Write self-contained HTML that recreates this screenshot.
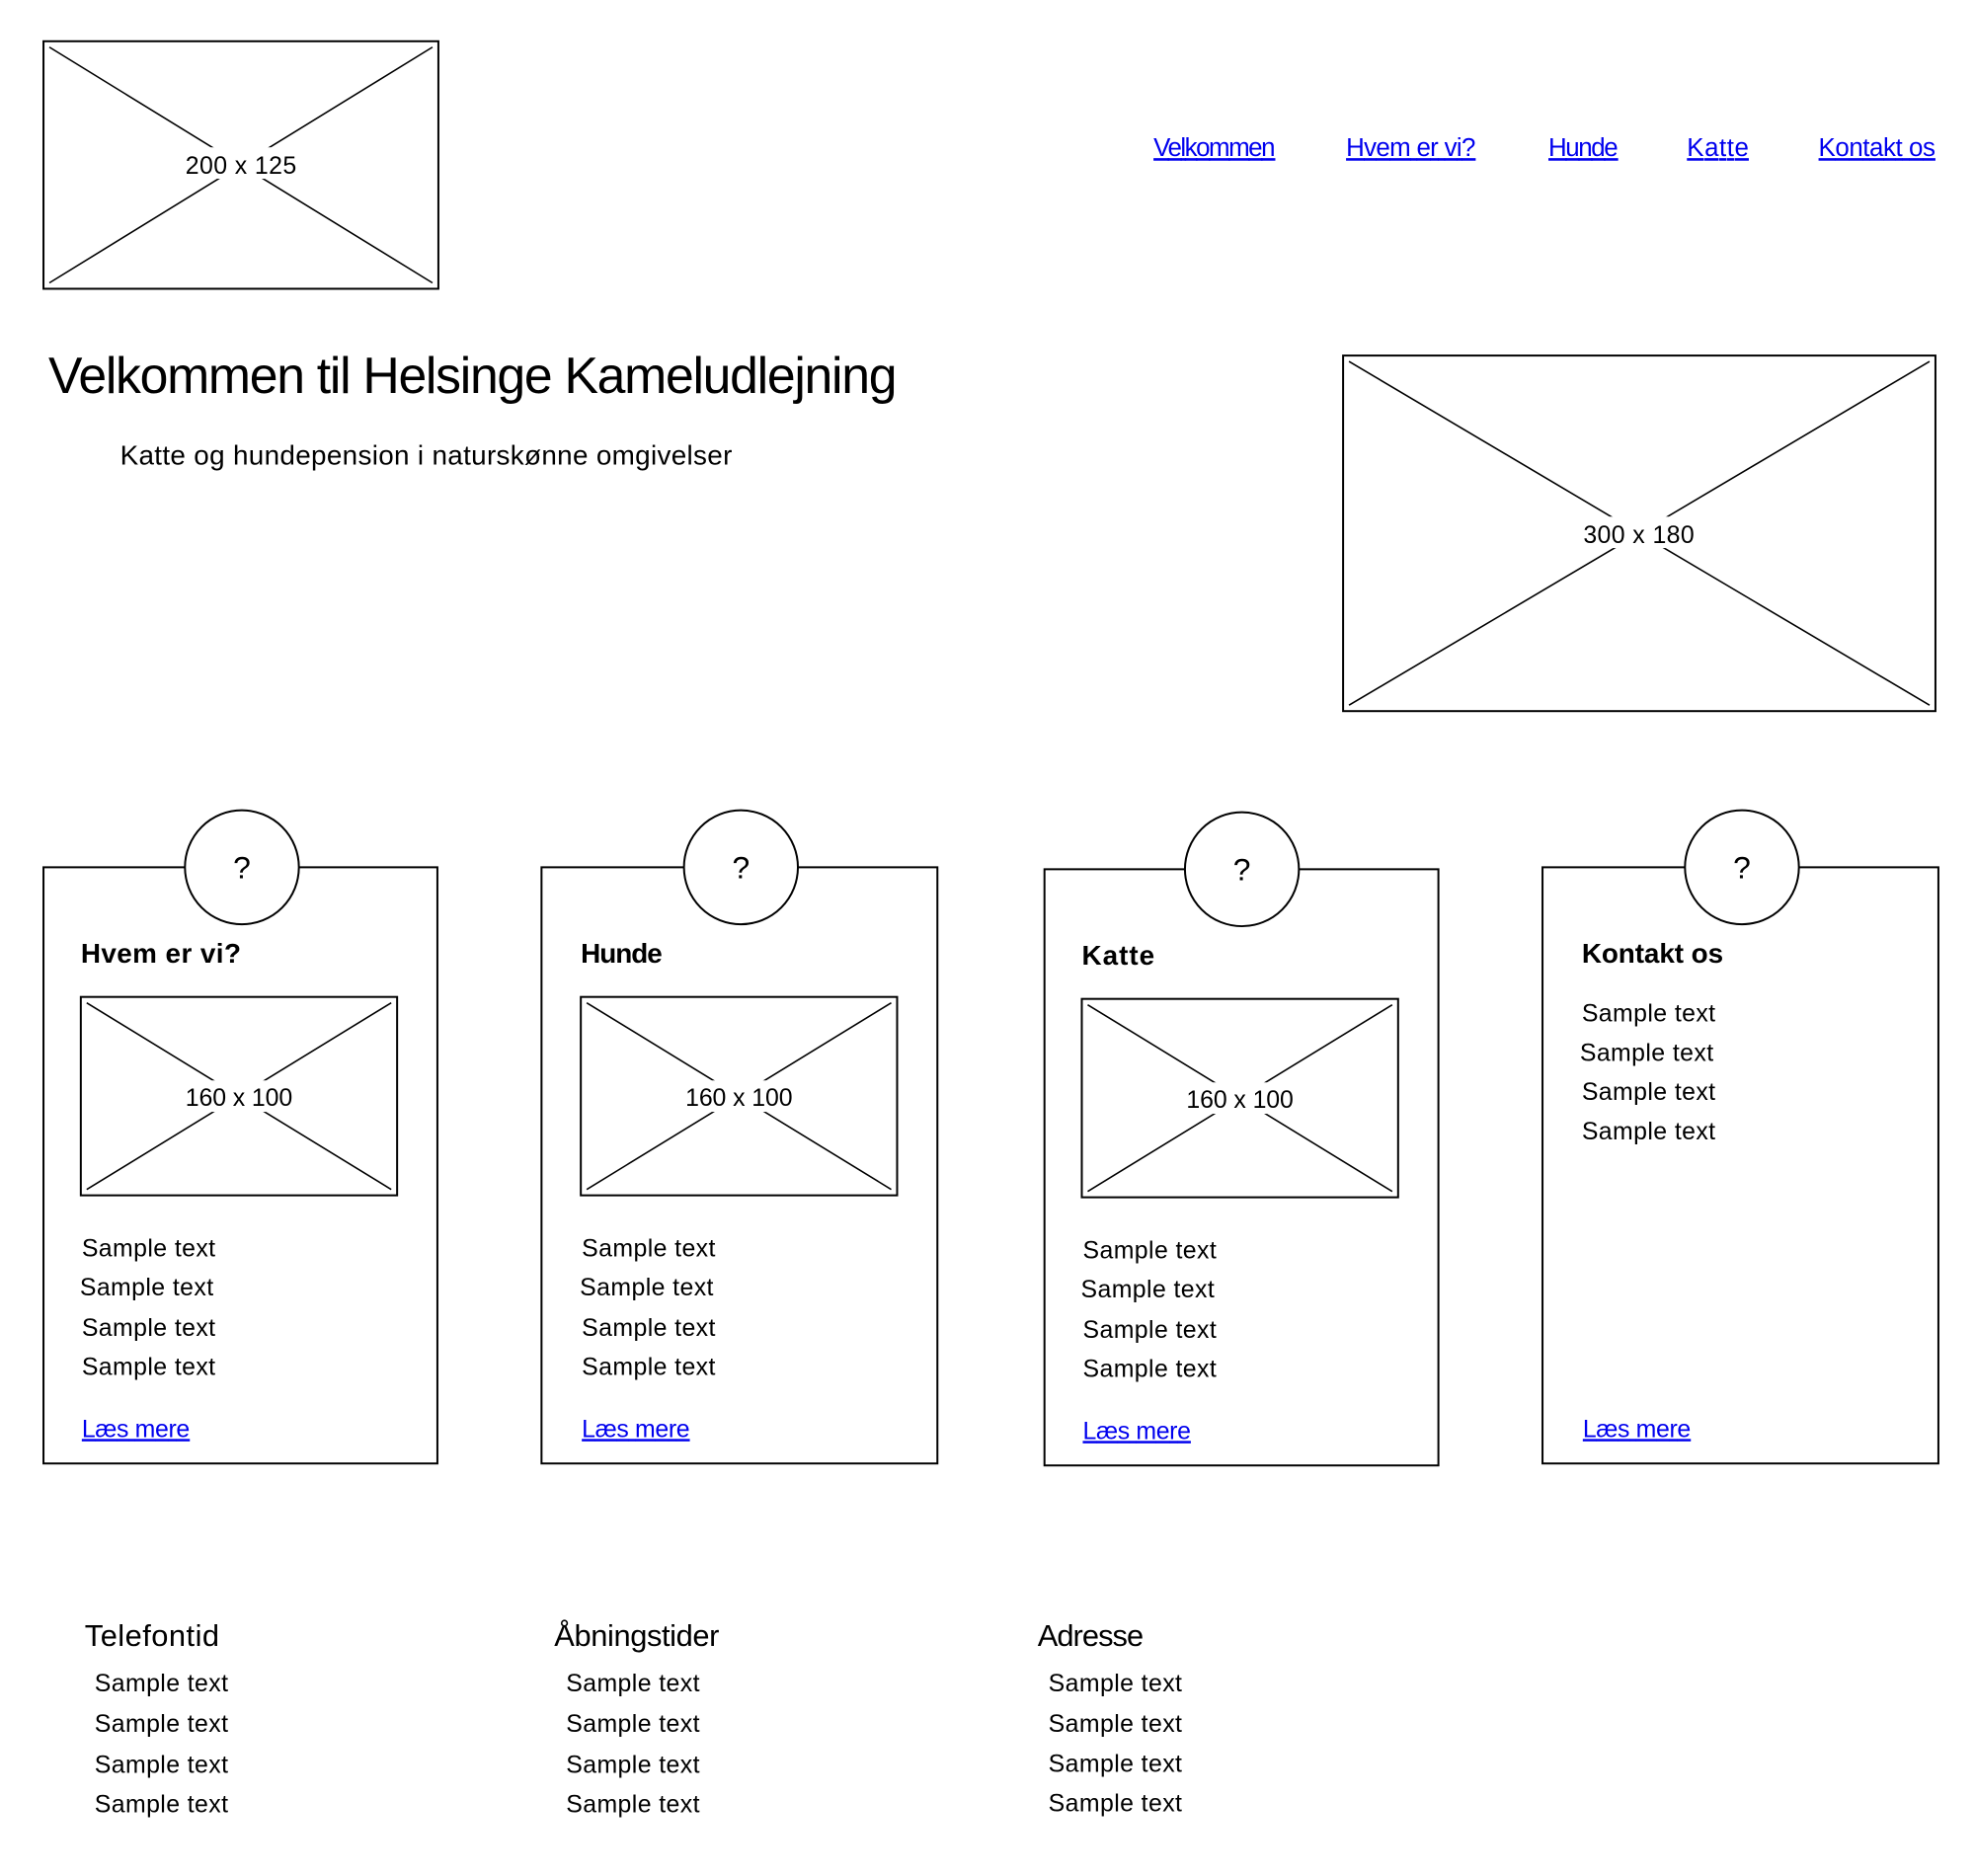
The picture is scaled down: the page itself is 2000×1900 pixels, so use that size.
<!DOCTYPE html>
<html><head><meta charset="utf-8">
<style>
html,body{margin:0;padding:0;background:#fff;width:2000px;height:1900px;overflow:hidden}
svg{display:block}
text{font-family:"Liberation Sans",sans-serif;fill:#000}
.lnk{fill:#0000ee;text-decoration:underline}
.box{fill:#fff;stroke:#000;stroke-width:2}
.x{stroke:#000;stroke-width:1.6}
.lbl{font-size:25px}
.st{font-size:25px}
.h{font-size:28px;font-weight:bold}
.fh{font-size:31px}
</style></head>
<body>
<svg width="2000" height="1900" viewBox="0 0 2010 1910">
<!-- Logo -->
<g>
<rect class="box" x="44" y="42" width="402" height="252"/>
<line class="x" x1="50" y1="48" x2="440" y2="288"/><line class="x" x1="440" y1="48" x2="50" y2="288"/>
<rect x="185" y="150" width="120" height="32" fill="#fff"/>
<text class="lbl" x="245" y="177" text-anchor="middle" textLength="113">200 x 125</text>
</g>
<!-- Nav -->
<g font-size="26">
<text class="lnk" x="1174" y="159" textLength="124">Velkommen</text>
<text class="lnk" x="1370" y="159" textLength="132">Hvem er vi?</text>
<text class="lnk" x="1576" y="159" textLength="71">Hunde</text>
<text class="lnk" x="1717" y="159" textLength="63">Katte</text>
<text class="lnk" x="1851" y="159" textLength="119">Kontakt os</text>
</g>
<!-- Hero -->
<text x="49" y="400" font-size="52" textLength="864">Velkommen til Helsinge Kameludlejning</text>
<text x="122" y="473" font-size="28" textLength="623">Katte og hundepension i naturskønne omgivelser</text>
<g>
<rect class="box" x="1367" y="362" width="603" height="362"/>
<line class="x" x1="1373" y1="368" x2="1964" y2="718"/><line class="x" x1="1964" y1="368" x2="1373" y2="718"/>
<rect x="1606" y="526" width="124" height="32" fill="#fff"/>
<text class="lbl" x="1668" y="553" text-anchor="middle" textLength="113">300 x 180</text>
</g>

<!-- Card 1 -->
<g>
<rect class="box" x="44" y="883" width="401" height="607"/>
<circle class="box" cx="246" cy="883" r="58"/>
<text x="246" y="894" font-size="32" text-anchor="middle">?</text>
<text class="h" x="82" y="980" textLength="163">Hvem er vi?</text>
<rect class="box" x="82" y="1015" width="322" height="202"/>
<line class="x" x1="88" y1="1021" x2="398" y2="1211"/><line class="x" x1="398" y1="1021" x2="88" y2="1211"/>
<rect x="182" y="1100" width="122" height="32" fill="#fff"/>
<text class="lbl" x="243" y="1126" text-anchor="middle" textLength="109">160 x 100</text>
<text class="st" x="83" y="1279" textLength="136">Sample text</text>
<text class="st" x="81" y="1319" textLength="136">Sample text</text>
<text class="st" x="83" y="1360" textLength="136">Sample text</text>
<text class="st" x="83" y="1400" textLength="136">Sample text</text>
<text class="lnk st" x="83" y="1463" textLength="110">Læs mere</text>
</g>
<!-- Card 2 -->
<g>
<rect class="box" x="551" y="883" width="403" height="607"/>
<circle class="box" cx="754" cy="883" r="58"/>
<text x="754" y="894" font-size="32" text-anchor="middle">?</text>
<text class="h" x="591" y="980" textLength="83">Hunde</text>
<rect class="box" x="591" y="1015" width="322" height="202"/>
<line class="x" x1="597" y1="1021" x2="907" y2="1211"/><line class="x" x1="907" y1="1021" x2="597" y2="1211"/>
<rect x="691" y="1100" width="122" height="32" fill="#fff"/>
<text class="lbl" x="752" y="1126" text-anchor="middle" textLength="109">160 x 100</text>
<text class="st" x="592" y="1279" textLength="136">Sample text</text>
<text class="st" x="590" y="1319" textLength="136">Sample text</text>
<text class="st" x="592" y="1360" textLength="136">Sample text</text>
<text class="st" x="592" y="1400" textLength="136">Sample text</text>
<text class="lnk st" x="592" y="1463" textLength="110">Læs mere</text>
</g>
<!-- Card 3 -->
<g>
<rect class="box" x="1063" y="885" width="401" height="607"/>
<circle class="box" cx="1264" cy="885" r="58"/>
<text x="1264" y="896" font-size="32" text-anchor="middle">?</text>
<text class="h" x="1101" y="982" textLength="74">Katte</text>
<rect class="box" x="1101" y="1017" width="322" height="202"/>
<line class="x" x1="1107" y1="1023" x2="1417" y2="1213"/><line class="x" x1="1417" y1="1023" x2="1107" y2="1213"/>
<rect x="1201" y="1102" width="122" height="32" fill="#fff"/>
<text class="lbl" x="1262" y="1128" text-anchor="middle" textLength="109">160 x 100</text>
<text class="st" x="1102" y="1281" textLength="136">Sample text</text>
<text class="st" x="1100" y="1321" textLength="136">Sample text</text>
<text class="st" x="1102" y="1362" textLength="136">Sample text</text>
<text class="st" x="1102" y="1402" textLength="136">Sample text</text>
<text class="lnk st" x="1102" y="1465" textLength="110">Læs mere</text>
</g>
<!-- Card 4 -->
<g>
<rect class="box" x="1570" y="883" width="403" height="607"/>
<circle class="box" cx="1773" cy="883" r="58"/>
<text x="1773" y="894" font-size="32" text-anchor="middle">?</text>
<text class="h" x="1610" y="980" textLength="144">Kontakt os</text>
<text class="st" x="1610" y="1040" textLength="136">Sample text</text>
<text class="st" x="1608" y="1080" textLength="136">Sample text</text>
<text class="st" x="1610" y="1120" textLength="136">Sample text</text>
<text class="st" x="1610" y="1160" textLength="136">Sample text</text>
<text class="lnk st" x="1611" y="1463" textLength="110">Læs mere</text>
</g>

<!-- Footer -->
<g>
<text class="fh" x="86" y="1676" textLength="137">Telefontid</text>
<text class="st" x="96" y="1722" textLength="136">Sample text</text>
<text class="st" x="96" y="1763" textLength="136">Sample text</text>
<text class="st" x="96" y="1805" textLength="136">Sample text</text>
<text class="st" x="96" y="1845" textLength="136">Sample text</text>
</g>
<g>
<text class="fh" x="564" y="1676" textLength="168">Åbningstider</text>
<text class="st" x="576" y="1722" textLength="136">Sample text</text>
<text class="st" x="576" y="1763" textLength="136">Sample text</text>
<text class="st" x="576" y="1805" textLength="136">Sample text</text>
<text class="st" x="576" y="1845" textLength="136">Sample text</text>
</g>
<g>
<text class="fh" x="1056" y="1676" textLength="108">Adresse</text>
<text class="st" x="1067" y="1722" textLength="136">Sample text</text>
<text class="st" x="1067" y="1763" textLength="136">Sample text</text>
<text class="st" x="1067" y="1804" textLength="136">Sample text</text>
<text class="st" x="1067" y="1844" textLength="136">Sample text</text>
</g>
</svg>
</body></html>
